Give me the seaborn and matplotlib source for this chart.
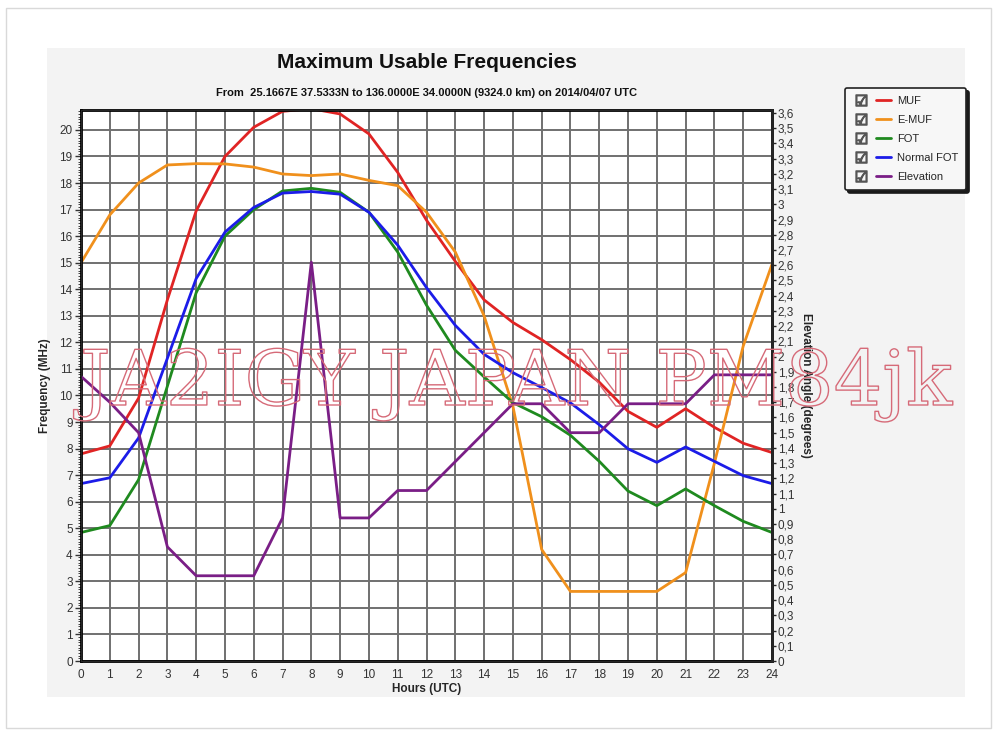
import numpy as np
import pandas as pd
import seaborn as sns
import matplotlib
matplotlib.use('Agg')
import matplotlib.pyplot as plt
import matplotlib.patheffects as pe
from matplotlib.lines import Line2D
from matplotlib.patches import Rectangle
from matplotlib.legend_handler import HandlerTuple
from matplotlib.ticker import MultipleLocator, FuncFormatter

hours = list(range(25))

muf = [7.8, 8.1, 9.9, 13.6, 16.95, 19.0, 20.1, 20.7, 20.8, 20.6, 19.85, 18.4, 16.6,
       15.05, 13.6, 12.75, 12.1, 11.35, 10.5, 9.4, 8.8, 9.5, 8.8, 8.2, 7.85]
e_muf = [15.0, 16.8, 18.0, 18.68, 18.73, 18.72, 18.6, 18.34, 18.28, 18.34, 18.1, 17.9, 16.9,
         15.4, 13.0, 9.6, 4.2, 2.62, 2.62, 2.62, 2.62, 3.33, 7.45, 11.86, 14.94]
fot = [4.84, 5.1, 6.83, 10.35, 13.87, 16.0, 17.0, 17.7, 17.8, 17.65, 16.9, 15.4, 13.4,
       11.7, 10.7, 9.73, 9.2, 8.5, 7.52, 6.4, 5.85, 6.48, 5.85, 5.26, 4.84]
normal_fot = [6.68, 6.9, 8.4, 11.4, 14.4, 16.15, 17.08, 17.62, 17.68, 17.58, 16.9, 15.66, 14.06,
              12.64, 11.55, 10.86, 10.3, 9.72, 8.9, 7.99, 7.48, 8.06, 7.52, 6.98, 6.68]
elevation = [1.87, 1.7, 1.5, 0.75, 0.56, 0.56, 0.56, 0.94, 2.62, 0.94, 0.94, 1.12, 1.12,
             1.31, 1.5, 1.69, 1.69, 1.5, 1.5, 1.69, 1.69, 1.69, 1.88, 1.88, 1.88]

series_names = ['MUF', 'E-MUF', 'FOT', 'Normal FOT']
colors = {'MUF': '#e02424', 'E-MUF': '#f0901c', 'FOT': '#1f8a1f',
          'Normal FOT': '#1c1ce8', 'Elevation': '#7a1e86'}

title = 'Maximum Usable Frequencies'
subtitle = 'From  25.1667E 37.5333N to 136.0000E 34.0000N (9324.0 km) on 2014/04/07 UTC'
watermark = 'JA2IGY JAPAN PM84jk'

df = pd.DataFrame({
    'hour': hours * 4,
    'value': muf + e_muf + fot + normal_fot,
    'series': [s for s in series_names for _ in hours],
})

sns.set_style('white')
plt.rcParams['font.family'] = ['Liberation Sans', 'DejaVu Sans']

W, H = 997, 731
fig = plt.figure(figsize=(W / 100, H / 100), dpi=100, facecolor='white')

# outer frame and grey panel
fig.patches.append(Rectangle((6 / W, 1 - 728 / H), (991 - 6) / W, (728 - 8) / H,
                             transform=fig.transFigure, facecolor='white',
                             edgecolor='#d9d9d9', lw=1, zorder=-20))
fig.patches.append(Rectangle((47 / W, 1 - 697 / H), (965 - 47) / W, (697 - 48) / H,
                             transform=fig.transFigure, facecolor='#f3f3f3',
                             edgecolor='none', zorder=-10))

ax = fig.add_axes([81 / W, 1 - 661 / H, (772 - 81) / W, (661 - 110) / H])
ax.set_facecolor('white')

sns.lineplot(data=df, x='hour', y='value', hue='series', palette=colors,
             hue_order=series_names, linewidth=2, ax=ax, legend=False)

ax.set_xlim(0, 24)
ax.set_ylim(0, 20.75)
ax.xaxis.set_major_locator(MultipleLocator(1))
ax.yaxis.set_major_locator(MultipleLocator(1))
ax.yaxis.set_minor_locator(MultipleLocator(0.1))
ax.grid(True, which='major', color='#707070', lw=1.4)
ax.set_axisbelow(True)
ax.tick_params(axis='both', which='major', direction='out', length=4, width=1,
               labelsize=8.5, labelcolor='#333333', pad=2, colors='#333333')
ax.tick_params(axis='y', which='minor', direction='out', length=2, width=0.6)
for side in ['left', 'bottom', 'right', 'top']:
    ax.spines[side].set_color('black')
    ax.spines[side].set_linewidth(2)
ax.set_xlabel('Hours (UTC)', fontsize=8.5, fontweight='bold', labelpad=1)
ax.set_ylabel('Frequency (MHz)', fontsize=8.5, fontweight='bold', labelpad=6)

ax2 = ax.twinx()
sns.lineplot(x=hours, y=elevation, color=colors['Elevation'], linewidth=2, ax=ax2)
ax2.set_ylim(0, 3.62)
ax2.yaxis.set_major_locator(MultipleLocator(0.1))
ax2.yaxis.set_major_formatter(FuncFormatter(
    lambda v, p: f'{v:.1f}'.replace('.', ',') if abs(v - round(v)) > 1e-6
    else f'{int(round(v))}'))
ax2.tick_params(axis='y', direction='out', length=3, width=1, labelsize=8.5,
                labelcolor='#333333', pad=1)
ax2.spines['right'].set_linewidth(2)
ax2.set_ylabel('Elevation Angle (degrees)', fontsize=8.5, fontweight='bold',
               rotation=270, labelpad=13)

fig.text(426.5 / W, 1 - 63 / H, title, ha='center', va='center', fontsize=15,
         fontweight='bold', color='#111111')
fig.text(426.5 / W, 1 - 93 / H, subtitle, ha='center', va='center', fontsize=8,
         fontweight='bold', color='#111111')

# watermark
fig.text(80 / W, 1 - 405 / H, watermark, ha='left', va='baseline', fontsize=55,
         family='DejaVu Serif', color='none', zorder=5,
         path_effects=[pe.withStroke(linewidth=1.0, foreground='#d66a78')])

# legend with check boxes
handles = []
labels = series_names + ['Elevation']
for name in labels:
    box = Line2D([], [], ls='', marker='$\u2611$', markersize=8, color='#555555')
    line = Line2D([], [], color=colors[name], lw=2)
    handles.append((box, line))
leg = fig.legend(handles, labels, handler_map={tuple: HandlerTuple(ndivide=None, pad=0.7)},
                 loc='upper left', bbox_to_anchor=(845 / W, 1 - 88 / H), borderaxespad=0,
                 fontsize=8, handlelength=3.4, handletextpad=0.5, labelspacing=0.8,
                 frameon=True, fancybox=True, shadow={'color': '0.1', 'alpha': 1},
                 borderpad=0.75)
leg.get_frame().set_edgecolor('#222222')
leg.get_frame().set_linewidth(1.2)
leg.get_frame().set_facecolor('#f7f7f7')

fig.savefig('out.png', dpi=100, facecolor='white')
